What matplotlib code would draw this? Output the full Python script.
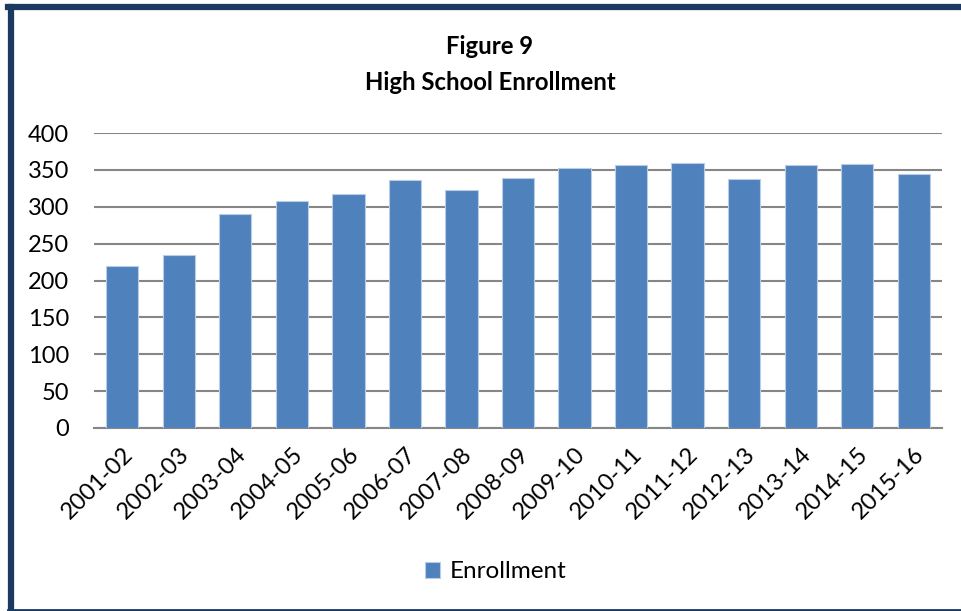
import matplotlib
matplotlib.use("Agg")
import matplotlib.pyplot as plt
from matplotlib.lines import Line2D

categories = ["2001-02", "2002-03", "2003-04", "2004-05", "2005-06", "2006-07",
              "2007-08", "2008-09", "2009-10", "2010-11", "2011-12", "2012-13",
              "2013-14", "2014-15", "2015-16"]
enrollment = [220, 235, 290, 308, 317, 336, 323, 339, 353, 356, 360, 338, 356, 358, 345]
yticks = [0, 50, 100, 150, 200, 250, 300, 350, 400]

plt.rcParams['font.family'] = ['Lato', 'DejaVu Sans']

W, H = 961, 611
fig = plt.figure(figsize=(W / 100, H / 100), dpi=100)

# frame border
border = "#1B3A5F"
fig.add_artist(Line2D([11 / W, 11 / W], [1 - 7 / H, 1 - 610 / H], color=border, lw=4.5,
                      transform=fig.transFigure))
fig.add_artist(Line2D([8 / W, 1.0], [1 - 7 / H, 1 - 7 / H], color=border, lw=4.5,
                      transform=fig.transFigure))
fig.add_artist(Line2D([8 / W, 1.0], [1 - 610 / H, 1 - 610 / H], color=border, lw=2,
                      transform=fig.transFigure))

ax = fig.add_axes([94 / W, 1 - 428 / H, (942 - 94) / W, (428 - 133) / H])
x = list(range(len(categories)))
ax.bar(x, enrollment, width=0.57, color="#4F81BD", edgecolor="#B9CDE5", linewidth=0.8,
       label="Enrollment", zorder=3)
ax.set_xlim(-0.5, len(categories) - 0.5)
ax.set_ylim(0, 400)
ax.set_yticks(yticks)
ax.set_yticklabels([str(v) for v in yticks], fontsize=17)
ax.set_xticks(x)
ax.set_xticklabels(categories, fontsize=17, rotation=45, ha="right", rotation_mode="anchor")
ax.tick_params(axis="y", length=0, pad=18)
ax.tick_params(axis="x", length=0, pad=11)
ax.grid(axis="y", color="#868686", lw=1.5, zorder=0)
for s in ["top", "right", "left"]:
    ax.spines[s].set_visible(False)
ax.spines["bottom"].set_color("#868686")
ax.spines["bottom"].set_linewidth(1.5)

fig.text(490 / W, 1 - 47 / H, "Figure 9", ha="center", va="center", fontsize=17.2, fontweight="bold")
fig.text(490 / W, 1 - 82 / H, "High School Enrollment", ha="center", va="center", fontsize=17.2,
         fontweight="bold")

leg = fig.legend(loc="center", bbox_to_anchor=(496 / W, 1 - 572 / H), frameon=False, fontsize=17.5,
                 handlelength=0.6, handleheight=0.6, handletextpad=0.4)

fig.savefig("out.png", dpi=100)
